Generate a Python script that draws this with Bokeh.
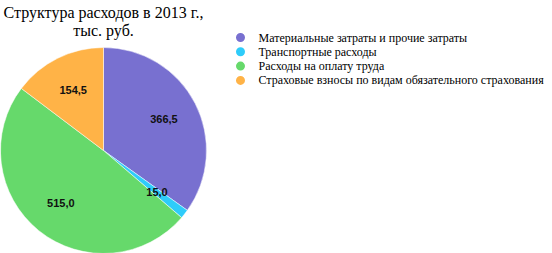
import math
from bokeh.plotting import figure
from bokeh.models import ColumnDataSource
from bokeh.core.properties import value
from bokeh.embed import file_html
from bokeh.resources import INLINE

categories = ["Материальные затраты и прочие затраты", "Транспортные расходы",
              "Расходы на оплату труда", "Страховые взносы по видам обязательного страхования"]
values = [366.5, 15.0, 515.0, 154.5]
labels = ["366,5", "15,0", "515,0", "154,5"]
colors = ["#7870D0", "#2ECCFA", "#66D96B", "#FFB347"]
title_lines = ["Структура расходов в 2013 г.,", "тыс. руб."]

W, H = 552, 253
cx, cy, r = 103, 103, 103

total = sum(values)
starts, ends, lx, ly = [], [], [], []
cum = 0.0
for v in values:
    a0 = math.pi / 2 - 2 * math.pi * (cum + v) / total
    a1 = math.pi / 2 - 2 * math.pi * cum / total
    starts.append(a0)
    ends.append(a1)
    mid = (a0 + a1) / 2
    lx.append(cx + 0.66 * r * math.cos(mid))
    ly.append(cy + 0.66 * r * math.sin(mid))
    cum += v

p = figure(width=W, height=H, x_range=(0, W), y_range=(0, H), output_backend="svg",
           toolbar_location=None, min_border=0, outline_line_color=None)
p.axis.visible = False
p.grid.visible = False
p.background_fill_color = "white"

src = ColumnDataSource(dict(start=starts, end=ends, color=colors, lx=lx, ly=ly, label=labels))
p.wedge(x=cx, y=cy, radius=r, start_angle="start", end_angle="end", color="color",
        line_color="white", line_width=0.5, source=src)
p.text(x="lx", y="ly", text="label", source=src, text_align="center", text_baseline="middle",
       text_font=value("Liberation Sans"), text_font_size="11px", text_font_style="bold",
       text_color="#111111")

# title
p.text(x=[103, 103], y=[H - 12, H - 30], text=title_lines, text_align="center",
       text_baseline="middle", text_font=value("Liberation Serif"), text_font_size="16px",
       text_color="#000000")

# legend
leg_y = [H - 37 - 14.3 * i for i in range(len(categories))]
p.scatter(x=[240] * len(categories), y=leg_y, size=9, color=colors, line_color=None)
p.text(x=[258] * len(categories), y=leg_y, text=categories, text_align="left",
       text_baseline="middle", text_font=value("Liberation Serif"), text_font_size="12px",
       text_color="#000000")

open("out.html", "w").write(file_html(p, INLINE))
